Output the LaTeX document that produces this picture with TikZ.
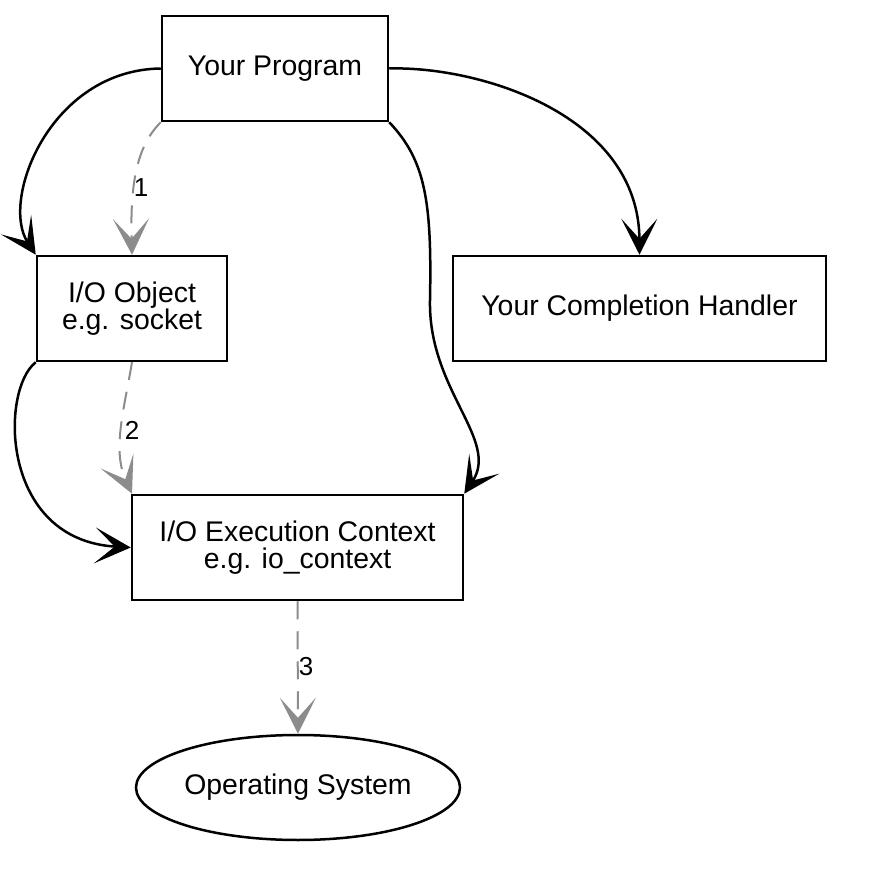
\documentclass[tikz,border=0pt]{standalone}
\usepackage{fontspec}
\setmainfont{Liberation Sans}
\usetikzlibrary{arrows.meta,shapes.geometric}
\definecolor{edgegray}{RGB}{140,140,140}
\begin{document}
\begin{tikzpicture}[x=0.5pt,y=-0.5pt,
  box/.style={draw, line width=1.25pt, rectangle, minimum height=52.5pt, align=center,
    font=\fontsize{14.2}{13.5}\selectfont, inner sep=0pt},
  osnode/.style={draw, line width=1.25pt, ellipse, minimum width=162pt, minimum height=52.5pt,
    font=\fontsize{14.2}{13.5}\selectfont, inner sep=0pt},
  tip/.style={-{Stealth[length=18pt,width=18pt,inset=10pt]}},
  solidedge/.style={line width=1.25pt, tip},
  dashedge/.style={edgegray, line width=1pt, dash pattern=on 9pt off 6pt, tip},
  lbl/.style={font=\fontsize{13}{13}\selectfont, inner sep=0pt}]
\useasboundingbox (0,0) rectangle (889,871);

\node[box, minimum width=113pt] (prog) at (275,68.5) {Your Program};
\node[box, minimum width=95pt] (obj) at (132,308.5) {I/O Object\\e.g. socket};
\node[box, minimum width=186.5pt] (handler) at (639.5,308.5) {Your Completion Handler};
\node[box, minimum width=165.5pt] (ctx) at (297.5,547.5) {I/O Execution Context\\e.g. io\_context};
\node[osnode] (os) at (298,787.5) {Operating System};

% solid connectors
\draw[solidedge] (prog.west) .. controls (50,70) and (0,200) .. (obj.north west);
\draw[solidedge] (prog.east) .. controls (480,66) and (639,115) .. (handler.north);
\draw[solidedge] (prog.south east) .. controls (425,160) and (432,200) .. (430,300)
   .. controls (428,390) and (500,440) .. (ctx.north east);
\draw[solidedge] (obj.south west) .. controls (0,390) and (0,540) .. (ctx.west);

% dashed connectors
\draw[dashedge] (prog.south west) .. controls (138,145) and (130,180) .. (obj.north);
\draw[dashedge] (obj.south) .. controls (124,410) and (112,450) .. (ctx.north west -| obj.south);
\draw[dashedge] (ctx.south) -- (os.north);

% labels
\node[lbl] (l1) at (141,188) {1};
\node[lbl] (l2) at (132,430) {2};
\node[lbl] (l3) at (306,667) {3};
\end{tikzpicture}
\end{document}
